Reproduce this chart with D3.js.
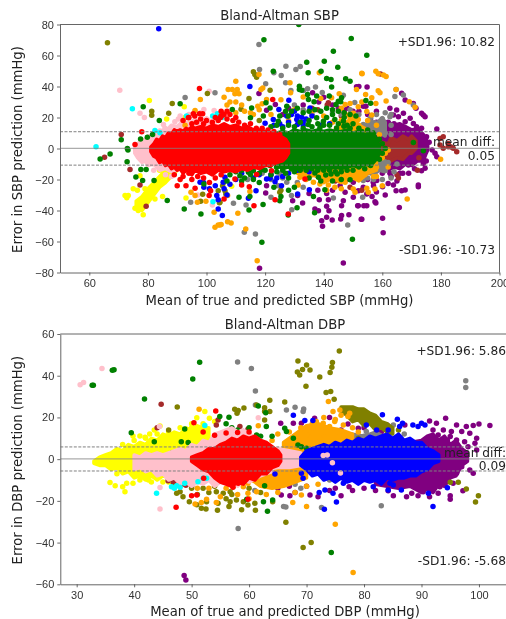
<!DOCTYPE html>
<html lang="en">

<head>
    <meta charset="utf-8" />
    <script src="https://d3js.org/d3.v7.min.js"></script>
    <style>
        body { margin: 0; background: #fff; }
        svg { display: block; filter: blur(0.35px); font-family: "DejaVu Sans", sans-serif; }
    </style>
</head>

<body>
    <script>

        const w = 506;
        const h = 619;

        const sbpYellowBand = [[76,-38,-34],[78,-40,-31],[80,-35,-26],[82,-30,-22],[84,-25,-18],[86,-22,-14],[88,-18,-11],[90,-14,-8]];
        const sbpPinkBand = [[75.5,-3,1],[76.5,-6,3],[78,-9,6],[79,-8,5],[80,-11,8],[82,-10,9],[84,-14,12],[86,-13,11],[88,-15,15],[90,-14,14],[92,-13,18],[94,-14,16],[96,-12,19],[98,-13,17],[100,-12,20],[102,-13,17],[104,-12,14]];
        const sbpPurpleBand = [[156,-11,11],[158,-13,14],[160,-12,13],[162,-14,17],[164,-12,15],[166,-13,16],[168,-10,14],[170,-11,12],[172,-8,13],[174,-8,9],[175,-3,6],[175.5,-1,2]];
        const sbpBrownBand = [[158,-5,1],[160,-7,4],[162,-6,3],[163,-8,7],[165,-6,5],[167,-7,8],[169,-3,6],[170,-3,8],[171.5,0,5]];
        const sbpGrayBand = [[154,10,15],[156,10,18],[158,10,16],[160,9,20],[161,8,17]];
        const sbpGrayBand2 = [[151,-16,-10],[154,-15,-10],[157,-17,-10],[159,-14,-9],[161,-15,-8]];
        const sbpOrangeBand = [[131,-16,-9],[134,-19,-9],[137,-17,-9],[140,-22,-9],[143,-19,-9],[146,-22,-9],[149,-18,-9],[152,-21,-9],[155,-16,-8],[158,-14,-6]];
        const sbpOrangeBand2 = [[144,8,13],[147,8,16],[150,8,20],[152,8,15],[154,8,13]];
        const sbpGreenBand = [[124,-11,10],[126,-13,11],[128,-12,10],[130,-14,12],[132,-12,11],[134,-13,12],[136,-11,11],[138,-13,12],[140,-12,11],[142,-13,12],[144,-12,11],[146,-13,11],[148,-12,12],[150,-11,10],[152,-12,11],[154,-10,9],[156,-11,10],[157.5,-8,8],[158.5,-5,4],[159,-2,1]];
        const sbpRedBand = [[81,-2,1],[82,-5,3],[83,-6,6],[84,-9,5],[85,-8,8],[86,-11,7],[87,-10,10],[88,-13,9],[89,-12,12],[90,-14,11],[91,-13,12],[92,-16,11],[93,-14,13],[94,-15,12],[95,-17,14],[96,-14,13],[98,-16,14],[100,-15,13],[102,-17,15],[104,-14,14],[106,-15,16],[108,-14,14],[110,-15,15],[112,-13,13],[114,-14,14],[116,-12,12],[118,-13,12],[120,-11,11],[122,-11,10],[124,-9,9],[126,-8,7],[127,-6,6],[128,-3,3]];

        const sbpYellow = [[72.2,-30.4],[73.3,-30.4],[72.8,-31.8],[75,-26],[76.4,-27],[79,-26],[77.3,-17.5],[82.4,-32.5],[85,-31],[93,-32],[78.4,-42.7],[75.6,-38.6],[76.7,-40],[77.3,-35.8],[79,-33.6],[80.1,-30.4],[81.3,-27.2],[82.4,-24],[84.1,-20.7],[85.8,-18.6],[87,-16.4],[80.5,31],[86.4,19],[92.4,27],[92.7,20],[108.6,-24.4],[94,16],[84,-14],[104,19]];
        const sbpPink = [[70.4,37.6],[77.3,22.8],[78.8,20],[85.3,15.5],[85.8,13],[89.2,17.2],[90.4,19.1],[99.1,25.2],[102.6,24.5],[100.9,37],[106,21],[102,-36.5],[97,-30],[91,21],[94,22],[96,24],[98,23],[86,-17],[88,-18],[82,-14]];
        const sbpCyan = [[74.7,25.6],[62.3,1.1],[82.4,11.6],[84.1,10.1],[93.2,20.9],[103.7,22.4],[102.1,20.9],[102.2,-34.3],[105.3,20],[100,-13]];
        const sbpPurple = [[178.6,12.6],[174,21.6],[174.6,20.5],[173.4,22.7],[171.5,25.9],[170.6,29.1],[167.8,31.3],[166.6,35.6],[162.6,25.9],[164.9,24.8],[167.2,22.7],[165.5,20.5],[169.5,19.5],[167.8,17.3],[163.8,21.6],[171.7,14],[173.4,13],[170.6,16.2],[175.1,7.6],[174,-9.6],[174.6,-12.8],[173.4,-14.3],[168.9,-10.6],[166,-16],[165.5,-11.7],[167.8,-26.8],[166.6,-27.2],[164.7,-27.2],[162.6,-16],[162,-22.5],[163.8,-23.5],[172.3,-23.5],[172.3,-24.6],[165.8,-38],[160.1,-45],[160.3,-54.3],[154.7,-36.9],[151.8,-36.9],[153,-45.7],[157.5,-34.3],[160.1,-24.6],[178,-3.1],[178.6,-5.3],[138.5,-33],[141.6,-33],[146.7,-33.7],[146.1,-36.9],[141,-37.3],[137,-39],[138.2,-40.1],[141.8,-40.1],[141,-44.4],[139.3,-46.6],[139.6,-50.2],[142.9,-46.1],[146.1,-43.3],[145.8,-45.5],[148.6,-42.7],[151.6,-36.9],[153.7,-36.9],[152.8,-45.7],[157.8,-35.2],[156.5,-30.9],[146.7,-73.9],[118.1,-77.3],[129.4,-33.7],[131.1,-30.4],[132.8,-35.2],[120.5,-24],[120.2,-28.7],[147.3,-28.3],[145.6,-24],[151.8,-27.2],[154.7,-29.4],[156.9,-21.8],[150.1,-21.8],[158.1,-20.7],[153.5,-25],[150.1,-31.5],[117.9,35.5],[136.2,35.9],[151.2,39.8],[152,40],[154.8,39.6],[154.4,27.3],[153.5,27.3],[158,24],[123.5,28.4],[120.5,24.7],[140,33],[138.3,30],[150,24],[147,24.5],[161,-30],[158,-28],[160,15],[162,17],[164,16],[166,14],[168,13],[170,11],[172,10],[158,17],[156,19],[155,22],[152,24],[148,26],[145,26],[143,28],[136,25],[133,28],[128,26],[126,22],[160,-16],[158,-14],[156,-15],[163,-18],[165,-21],[167,-16],[169,-16],[171,-13],[157,-24],[155,-20],[152,-18],[148,-20],[146,-19],[143,-27],[141,-29],[138,-27],[135,-29],[176,4],[177,-1],[175,-8]];
        const sbpBrown = [[70.9,9],[65.2,-5.7],[73.9,-13.6],[77.3,-23.5],[79.4,-37.3],[180.8,7.6],[182.5,3.3],[184.2,0.1],[185.4,-2.1],[179.7,6.5],[182.5,1.2],[180.8,0.1],[179.7,2.2],[183.5,1],[159.4,48],[141.6,29.5],[141.2,28],[149,-25],[153,-27],[165,-17],[165.5,-19],[172,-14],[172.5,-6],[159,11],[136,26],[138,25],[146,21],[144,-21]];
        const sbpGray = [[92.7,32.9],[102.9,35.9],[117.9,67.1],[127.1,53.1],[130.5,51],[132,52.9],[123,48.8],[125.5,47.1],[118.1,51],[120.2,41.7],[127,42.4],[128.8,37.4],[134.5,38.5],[137.2,39.6],[139.5,36.1],[133.1,37.5],[146.7,34.4],[150.6,29.7],[164.7,38.1],[167.2,34.5],[170.6,28],[164.3,33.5],[162.6,20.5],[94.6,-34.7],[148.2,-49.4],[143.3,-32],[109.2,-35.4],[113.5,-36.4],[112.9,-54.1],[116.7,-55.2],[122,-31.5],[129.1,-39.5],[153.3,-31.5],[125.1,-16.4],[127.4,-21.8],[124.5,-24],[129,-30.4],[152.4,-14.3],[154.7,-12.1],[156.9,-16.4],[158.6,-13.2],[153.5,-20.7],[151.2,-10],[153.5,15.5],[155.8,13.3],[157.5,16.6],[154.6,11.2],[160,19],[158,22],[161,23],[163,22],[156,20],[152,22],[149,25],[146,22],[143,23],[160,14],[163,15],[159,-12],[161,-14],[163,-19],[157,-20],[155,-19],[160,-20],[164,-15],[165,-10],[162,-9],[161,10],[163,9],[136,22],[133,25],[130,28],[126,-19],[131,-22],[133,-25],[119,-16],[122,-20],[114,-20]];
        const sbpOlive = [[66.2,68.2],[81.3,24.1],[81.3,21.5],[88.3,29],[87.1,22.8],[100.3,35.5],[116,49.5],[116.5,47.7],[117.1,46],[121.7,37.6],[114.5,32.3],[111.8,25.4],[98.7,-29.5],[98,-34],[104,-27.2],[104.4,-35],[125,-28.3],[105.5,-24],[106.3,-27.2],[106.6,-29.4],[104.6,-34.7],[125.4,-27],[105.8,-22],[105,21],[118,18]];
        const sbpOrange = [[96.1,24.5],[92.7,15],[97.9,31.6],[110,43.4],[107.4,38],[108.8,38],[110.5,38],[109.7,35.3],[111.1,35.3],[119.2,39.1],[118.6,38],[117.9,47.7],[128.5,42.4],[128.7,35.9],[133,33.3],[139,32.3],[142.7,32.7],[138.5,48.8],[153.1,48.2],[157.8,49.9],[158.6,48.2],[160.4,47.4],[161.3,46.4],[153,48.5],[145.3,35.3],[147.3,28.4],[151.2,38],[154.3,34.8],[156.4,32.7],[157.8,29],[120.5,31.6],[125.4,31.4],[119,28.8],[117.5,27.3],[150,17.6],[151.2,15.5],[152.4,13.3],[149,19.8],[151.8,18.7],[164.7,38.1],[158.6,37.3],[159.2,36],[161.3,30.7],[169.2,30.2],[171.2,26.6],[148.4,21.6],[150.1,22.7],[151.8,27],[154.7,23.8],[156.4,21.6],[94.7,-28.3],[96.1,-30.4],[96.9,-34.7],[99.8,-34],[102.6,-41.2],[102.9,-50.8],[104,-49.3],[105,-49],[110.7,-41.8],[107.2,-47.2],[108.4,-48],[113.4,-52],[117.3,-72.4],[104.6,-49.3],[107.2,-30.4],[114.8,-27.8],[131.3,-23.5],[131.9,-18.6],[133.6,-16.4],[136.5,-21.8],[138.7,-22.9],[141.6,-23.5],[143.8,-25],[147.3,-21.8],[150.1,-26.1],[150.7,-28.3],[157.5,-26.1],[153,-7.8],[158,-12.1],[154.7,-25.7],[155.2,-28.3],[179.9,-7],[168.5,-32.6],[136,24],[140,21],[143,17],[146,18],[148,16],[152,15],[155,18],[158,15],[153,30],[149,29],[146,26],[130,25],[128,18],[118,25],[122,22],[113,24],[110,23],[116,22],[112,28],[115,23],[108,30],[106,33],[110,30],[107,28],[133,-12],[135,-14],[137,-17],[139,-19],[142,-19],[145,-19],[148,-18],[151,-17],[154,-17],[157,-18],[134,-20],[141,-27],[146,-26],[155,-14],[158,-18],[160,-24],[162,-12],[149,-15],[160,-6],[161,-3],[162,-1],[159,9]];
        const sbpBlue = [[83.7,77.2],[114.8,40],[128.1,31.2],[124.7,25.2],[129,22],[130.8,18.7],[132.5,20.2],[134,19.1],[131,15.5],[127.4,20.9],[122.8,18.7],[120,16.3],[135.3,26.2],[128,17],[133,15],[97.8,-21.8],[99.1,-25],[103.5,-30.4],[104,-39],[116.9,-27.2],[114.3,-32.1],[105.4,-43.3],[106.3,-18.6],[105.7,-21.8],[131.1,-29.4],[121.7,-19.2],[120.5,-19.7],[123.4,-21.4],[125.6,-24],[135.1,-26.6],[140.8,-8.9],[125,16],[126,14],[123,15],[130,24],[131,21],[133,17],[136,21],[139,15],[142,16],[126,-18],[124,-19],[122,-17],[118,-17],[116,-19],[112,-16],[110,-20],[108,-23],[106,-26],[103,-24],[101,-26],[99,-22],[107,-30],[104,-33],[128,-16],[131,-14],[135,-15],[138,-12.5],[144,-12]];
        const sbpGreen = [[70.9,5.6],[78.4,26.9],[91,28.8],[83.9,18],[73,0],[77.5,6.2],[79.8,7.3],[81.6,9],[63.7,-6.8],[67.1,-3.5],[73.2,-1],[72.9,-8.5],[75.9,-18.4],[78.2,-20.7],[82.1,-20.7],[77.6,-13.6],[79.4,-13.6],[86.6,-33.6],[92.4,-39],[98.1,-42.2],[99.1,-22.9],[119.6,70.1],[149.4,71],[154.7,60.2],[143.3,62.8],[140.2,56.3],[144.8,52.5],[134.2,55.7],[122.8,49.9],[139.1,49.9],[134.7,48.8],[141,45.2],[142.5,44.5],[147.5,45],[149,43.4],[131.7,40.2],[131.7,38],[132.5,37.6],[142.7,39.6],[134.5,34.8],[134.8,31.6],[137.6,33.8],[136.7,30.1],[141.9,33.8],[145,30.5],[146.1,32.7],[144.2,28.4],[145.8,30.1],[154.4,31],[156,29.2],[108.8,25.2],[115.4,26.2],[121.7,26.2],[127.4,27.3],[120.3,29.5],[115,19.8],[119.4,20.9],[124.5,17.6],[127.9,20.9],[137.6,19.8],[139.9,17.6],[143.8,18.7],[146.7,17.6],[134.7,15.5],[138.7,13.3],[144.4,13.3],[146.9,14.4],[131.5,80],[149.8,-58.6],[118.9,-60.5],[111.1,-31.5],[114.8,-31],[114.5,-39.7],[119.3,-36.2],[130.9,-38.2],[136.9,-41.4],[127.9,-42.9],[125,-33.7],[125.4,-30.9],[116,-14.3],[118.8,-13.7],[121.7,-11],[126.2,-11],[123.9,-12.1],[129,-13.2],[111.4,-17.5],[114.3,-15.4],[133.6,-11],[140.7,-17.1],[142.5,-16.4],[144.6,-16.4],[138.2,-18.6],[140.4,-26.6],[149,-20.1],[137,-15.8],[136.5,-30.9],[174,-1.4],[170.6,3.8],[122,14],[124,15],[126,13],[128,15],[130,14],[132,17],[133,13],[135,18],[136,14],[138,16],[140,15],[141,20],[142,15],[143,22],[145,16],[147,20],[148,15],[149,13],[150,16],[152,13],[153,11],[155,12],[157,10],[125,21],[127,24],[129,24],[131,26],[133,23],[135,24],[137,25],[139,24],[141,26],[143,25],[145,24],[147,23],[149,22],[151,21],[108,-17],[110,-15],[112,-14],[113,-19],[115,-17],[118,-16],[120,-14],[122,-17],[124,-15],[126,-14],[127,-16],[128,-19],[130,-15],[132,-14],[134,-14],[136,-13],[138,-14],[140,-14],[142,-14],[144,-15],[146,-15],[148,-14],[150,-14],[152,-12],[154,-13],[156,-11],[146,-20],[143,-21],[139,-21],[135,-19],[130,-25],[128,-27],[123,-25],[118,-22],[116,-20],[112,-21],[107,-21],[159,6],[160,3],[160,-3],[159,-7],[161,0]];
        const sbpRed = [[97.6,38.7],[122.6,31.6],[95.5,22.4],[97.6,22.4],[98.7,22.4],[93.8,19.8],[96.6,17],[77.9,10.8],[75.6,2.6],[105,24],[106,22],[107,19],[109,18],[111,17],[113,15],[115,16],[117,13],[119,13],[121,12],[123,11],[125,9],[107,24],[104.8,20],[94,20],[96,21],[92,18],[98,19],[100,18],[102,17],[104,18],[108,22],[110,20],[105,21],[103,20],[99,16],[95,16],[89,-17],[91,-20],[90,-24],[93,-24],[92,-18],[95,-20],[96.1,-25.7],[94,-16],[97,-18],[99,-19],[101,-22],[103,-19],[105,-17],[101.4,-27.2],[100.9,-30.4],[127.9,-42.3],[123.4,-33],[116.2,-36.9],[106,-32.6],[109.7,-19.7],[112,-23.5],[114.6,-24.6],[117.1,-16.7],[122.2,-14.3],[133.6,-19.7]];

        const dbpYellowBand = [[33,-2,-1],[34,-3,1],[35,-3,2],[36,-5,3],[37,-4,5],[38,-7,4],[39,-6,7],[40,-9,6],[41,-8,8],[42,-10,7],[43,-8,10],[44,-10,9],[45,-8,12],[46,-9,11],[47,-6,13],[48,-7,12],[49,-4,15],[50,-2,14],[51,0,16],[52,3,15],[53,6,15]];
        const dbpPurpleBand = [[82,-12,-8],[84,-13,3],[86,-14,3],[88,-13,8],[90,-16,9],[91,-14,11],[92,-16,12],[93,-12,9],[94,-13,11],[95,-9,7],[96,-8,9],[97,-3,5],[98,-1,3]];
        const dbpGrayBand = [[76,6,10],[78,6,12],[80,6,11],[82,6,13],[84,6,10]];
        const dbpOliveBand = [[76,23,25],[77,21,25],[78,18,25],[79,19,24],[80,16,24],[81,17,22],[82,14,21],[83,15,18],[84,13,17],[85,12,15]];
        const dbpOrangeBand = [[66,2,8],[68,3,12],[70,4,16],[72,5,17],[74,6,15],[76,7,14],[78,7,12]];
        const dbpOrangeBand2 = [[60,-9,-6],[62,-13,-6],[64,-14,-5],[66,-13,-3],[68,-11,-3],[70,-9,-3]];
        const dbpPinkBand = [[40,-5,2],[41,-4,1],[42,-6,3],[43,-5,2],[44,-8,3],[45,-7,2],[46,-10,3],[47,-9,4],[48,-12,5],[49,-11,4],[50,-13,7],[51,-11,6],[52,-12,9],[53,-10,8],[54,-13,12],[55,-11,13],[56,-12,14],[57,-10,15],[58,-13,13],[59,-10,14],[60,-11,12],[62,-8,9],[64,-6,6]];
        const dbpPinkBand2 = [[63,-5,4],[65,-4,5],[67,-4,4],[69,-3,3]];
        const dbpRedBand = [[50,-1,1],[51,-3,2],[52,-5,3],[53,-6,5],[54,-9,5],[55,-11,7],[56,-12,8],[57,-13,10],[58,-11,9],[59,-12,11],[60,-9,10],[61,-10,11],[62,-7,9],[63,-7,8],[64,-4,6],[65,-3,4],[65.5,-1,2]];
        const dbpBlueBand = [[69,-3,1],[70,-5,4],[71,-8,5],[72,-7,6],[73,-10,7],[74,-9,6],[75,-11,8],[76,-9,7],[77,-11,9],[78,-10,8],[79,-12,10],[80,-10,9],[81,-11,11],[82,-10,10],[83,-12,11],[84,-9,12],[85,-10,10],[86,-9,12],[87,-9,9],[88,-8,10],[89,-8,8],[90,-6,8],[91,-5,5],[92,-2,4],[93,-1,2]];

        const dbpYellow = [[52.3,22.8],[50.9,19.9],[53.1,19.6],[39.8,11.1],[41,11.1],[41.9,10.5],[44.5,15.9],[42.7,12.1],[38.7,-11.6],[38.4,-15.6],[38,-13.2],[36.7,-12.8],[35.8,-11.2],[39.8,-11.6],[42.5,-10],[50,17],[48,-8],[45,-11],[43.5,14],[38,7],[40,9],[42,10],[44,12],[46,13],[48,15],[50,15],[52,17],[54,18],[37,-7],[41,-10],[43,-11],[46,-11],[49,-7]];
        const dbpPurple = [[101.9,16.1],[48.7,-55.8],[49,-57.9],[95,-19.2],[95,-17.6],[97.2,-15.2],[94.2,19.6],[91.4,18.3],[96.1,16.4],[97.8,15.6],[99,16.1],[100,16.9],[92.6,17.2],[92,14],[93.8,14],[95.2,13.2],[97,13.2],[98.4,12.4],[99.6,10],[95,10.8],[96.1,9.2],[97.5,8.4],[99.3,7.6],[94.5,9.2],[92.9,11.6],[98.1,6],[96.7,5.2],[99.6,4.4],[97,-0.4],[99,-6.8],[98.4,-5.2],[97,-3.6],[96.1,-6.8],[95.5,-11.6],[93.2,-13.2],[92,-14],[90.3,-15.6],[88.3,-16.4],[87.4,-18],[85.1,-17.6],[84.2,-15.2],[89.4,-17.6],[91.4,-18],[92.9,-16.4],[82.2,15.6],[84,16.4],[87.1,16.4],[79,14.8],[77.2,16.9],[77.4,-13.2],[70.6,-17.2],[65.6,-17.2],[67.1,-17.5],[65.5,17.2],[67.7,17.2],[69.1,17.2],[71.4,19.6],[74,-15],[76,-17.5],[72,-18],[78,-15],[80,-14],[82,-15],[75,-14],[70,-13],[67,-13],[65,-14],[68,-16],[80,15],[83,13],[76,14],[74,20]];
        const dbpGray = [[58,46.6],[60.4,43.5],[61.1,32.7],[97.7,37.6],[97.7,34.4],[66.5,23.6],[68,24.9],[69.4,22.8],[69.5,24],[61.1,26],[58.1,-33.3],[72.6,-23.2],[66,-22.7],[66.4,-23],[83,-22.3],[79,8.4],[80.4,13.2],[82.2,11.6],[78.1,10.8],[81,10],[85.1,16.4],[79.6,10],[72.6,-6.8],[74,-10],[69,-14],[68,-12],[61,-15],[74,12],[80,11],[83,9],[76,11],[84,11.5],[87,12]];
        const dbpBrown = [[44.7,26.3],[45.9,-10.3],[46.8,-11.2],[47.7,-11.6],[48.5,-11.9],[58.4,15.6],[59.8,14.3],[54.6,18.8],[54.3,16.4],[44,15],[50,-13],[47,-10],[49,-12.5]];
        const dbpOlive = [[47.5,25],[68.5,47.1],[70,45.1],[70.6,42.7],[69.3,43],[68.4,41.8],[68.8,40.4],[72.3,39.4],[69.9,34.9],[75.7,51.9],[74.5,46.3],[74.4,44],[74.1,41.5],[73.4,31.9],[74.2,32.4],[74.8,28.7],[63.6,28.2],[66.2,27.4],[57.5,23.9],[58.1,23.3],[59.1,24.5],[57.9,22],[61.3,26],[62.7,24.7],[62.7,22.8],[63.6,22.8],[62.7,18.8],[66.4,-30.2],[69.4,-42.4],[70.8,-40],[99.4,-20.5],[99.9,-17.5],[97.8,-14.3],[95,-11.1],[96.4,-11.1],[48.5,-18],[49.6,-20.4],[51.7,-23.5],[52.5,-23.9],[54.5,-24.5],[50.9,-21.9],[52.6,-20.4],[54.6,-21.1],[56.7,-20.4],[56.5,-22.7],[58.7,-24.3],[59,-20.4],[57.8,-19.6],[61.1,-24.5],[61,-21.1],[59.8,-22],[64.1,-20.4],[54.3,-15.6],[55.5,-16.4],[56.7,-15.6],[48,-15.6],[46.8,-13.2],[47.4,-16.4],[46,14],[57,-17],[53,-16],[79,10],[86,14],[50,-14],[52,-14],[51,-17],[54,-13],[56,-19],[60,-14],[62,-16],[65,-12]];
        const dbpOrange = [[73.8,27.6],[51.3,23.9],[75,-31.2],[70,-22.7],[67.6,-20.8],[78.1,-54.4],[69.1,-17.2],[50.6,-21.5],[51.7,-20.8],[54.3,-20.8],[52.6,-19.2],[59.8,-16.4],[59.8,-11.6],[60.7,-10],[59,-13.2],[61.3,-15.6],[57.2,-13.2],[71.7,18],[72.9,17.2],[74.9,18],[76.4,16.4],[74,15.6],[75.5,13.2],[70,11.6],[71.1,12.4],[72.3,10],[76.4,11.6],[77.2,20.4],[77.5,22],[74.6,22.8],[75.8,23.6],[61.6,16],[64,9],[65,12],[63,7],[67,13],[69,15],[71,17],[73,20],[75,19],[78,15],[79,13],[76,21],[73,13],[60,-19],[63,-17],[65,-16],[68,-16],[70,-13],[72,-12],[58,-17],[56,-14],[55,-18],[53,-14],[51,-14]];
        const dbpGreen = [[32.7,35.4],[32.9,35.4],[36.2,42.6],[36.5,42.9],[39.5,12.7],[41.8,28.8],[43.5,8.4],[50.2,38.4],[51.4,46.4],[54.9,20.4],[56.5,20.1],[61.6,25.5],[62.9,22.3],[74.3,-44.8],[63.2,-25],[62.5,-20.4],[64.1,-19.6],[59.6,-19.2],[62.7,-12.7],[48.8,14.5],[48.2,8.4],[49.4,8],[46.5,2.8],[66.5,13.2],[67.7,10],[68.5,6.8],[70,5.2],[71.1,2],[71.4,4.4],[69.1,6],[63,15.6],[61.3,11.6],[59.6,12.7],[66.2,14.8],[59,13.2],[58,14],[56,17],[55,12],[57,15],[60,15],[62,11],[64,11]];
        const dbpCyan = [[52.3,16.1],[43.9,-16.4],[46.5,-13.2],[47.4,-12.8],[48.8,-11.6],[51.1,-10.8],[52,-9.2],[52.6,-9.2],[47,-14],[48,-13.5]];
        const dbpPink = [[30.6,35.7],[31.2,36.8],[34.4,43.4],[61.6,19.9],[44.5,-23.9],[44.5,-13.6],[44.4,15.6]];
        const dbpRed = [[54.2,23.1],[50.4,17.5],[47.3,-23.1],[59.8,-19.2],[57.2,-13.5],[58.1,-11.6],[52.1,-9.2],[50.9,-17.2],[50,-17.5],[52,13],[54,11.5],[56,12.5],[58,12.8],[60,13]];
        const dbpBlue = [[67.7,21],[73.1,-24],[92,-22.7],[75.2,-20.5],[94.5,-13.7],[83.2,21.3],[85.8,19.1],[86.7,17.2],[88.5,16.4],[90,17.2],[89.4,15.6],[90.6,16.4],[86.2,15.6],[84.2,14],[82.2,14],[80.4,16.4],[69.7,18.5],[71.1,18.5],[84.5,-11.6],[85.1,-12.4],[84.2,-14.8],[81.6,-13.2],[74.6,-16.4],[72.2,-16],[73.2,-14.8],[86.5,-14.8],[91.2,-16.4],[76.4,-11.6],[64.5,-7.1],[69.1,-6.8],[71.4,-5.2],[69.4,-9.2]];
        const dbpPinkTop = [[72.9,1.7],[73.6,2],[74.5,-1.7],[75.9,-6.6]];

        const colors = { yellow: "#ffff00", pink: "#ffc0cb", cyan: "#00ffff", purple: "#800080", brown: "#a52a2a", gray: "#808080", olive: "#808000", orange: "#ffa500", blue: "#0000ff", green: "#008000", red: "#ff0000" };

        // draw order matters, later colours sit on top
        const sbpLayers = [
            { color: colors.yellow, bands: [sbpYellowBand], points: sbpYellow },
            { color: colors.pink, bands: [sbpPinkBand], points: sbpPink },
            { color: colors.cyan, bands: [], points: sbpCyan },
            { color: colors.purple, bands: [sbpPurpleBand], points: sbpPurple },
            { color: colors.brown, bands: [sbpBrownBand], points: sbpBrown },
            { color: colors.gray, bands: [sbpGrayBand, sbpGrayBand2], points: sbpGray },
            { color: colors.olive, bands: [], points: sbpOlive },
            { color: colors.orange, bands: [sbpOrangeBand, sbpOrangeBand2], points: sbpOrange },
            { color: colors.blue, bands: [], points: sbpBlue },
            { color: colors.green, bands: [sbpGreenBand], points: sbpGreen },
            { color: colors.red, bands: [sbpRedBand], points: sbpRed }
        ];

        const dbpLayers = [
            { color: colors.yellow, bands: [dbpYellowBand], points: dbpYellow },
            { color: colors.purple, bands: [dbpPurpleBand], points: dbpPurple },
            { color: colors.gray, bands: [dbpGrayBand], points: dbpGray },
            { color: colors.brown, bands: [], points: dbpBrown },
            { color: colors.olive, bands: [dbpOliveBand], points: dbpOlive },
            { color: colors.orange, bands: [dbpOrangeBand, dbpOrangeBand2], points: dbpOrange },
            { color: colors.green, bands: [], points: dbpGreen },
            { color: colors.pink, bands: [dbpPinkBand, dbpPinkBand2], points: dbpPink },
            { color: colors.cyan, bands: [], points: dbpCyan },
            { color: colors.red, bands: [dbpRedBand], points: dbpRed },
            { color: colors.blue, bands: [dbpBlueBand], points: dbpBlue },
            { color: colors.pink, bands: [], points: dbpPinkTop }
        ];

        const svg = d3.select("body")
            .append("svg")
            .attr("width", w)
            .attr("height", h);

        function panel(o) {
            const x = d3.scaleLinear().domain(o.xDomain).range(o.xRange);
            const y = d3.scaleLinear().domain(o.yDomain).range(o.yRange);

            svg.append("clipPath").attr("id", o.id)
                .append("rect")
                .attr("x", o.xRange[0]).attr("y", o.yRange[1])
                .attr("width", o.xRange[1] - o.xRange[0])
                .attr("height", o.yRange[0] - o.yRange[1]);

            const marks = svg.append("g").attr("clip-path", `url(#${o.id})`);
            const area = d3.area().x(d => x(d[0])).y0(d => y(d[1])).y1(d => y(d[2]));

            o.layers.forEach(layer => {
                layer.bands.forEach(band => {
                    marks.append("path")
                        .attr("d", area(band))
                        .attr("fill", layer.color)
                        .attr("stroke", layer.color)
                        .attr("stroke-width", 3.5)
                        .attr("stroke-linejoin", "round");
                });
                marks.selectAll(null)
                    .data(layer.points)
                    .enter()
                    .append("circle")
                    .attr("cx", d => x(d[0]))
                    .attr("cy", d => y(d[1]))
                    .attr("r", 2.75)
                    .attr("fill", layer.color);
            });

            // mean and limits go over the points
            marks.append("line")
                .attr("x1", o.xRange[0]).attr("x2", o.xRange[1])
                .attr("y1", y(o.mean)).attr("y2", y(o.mean))
                .attr("stroke", "#808080").attr("stroke-width", 1.2).attr("opacity", 0.65);
            [o.upper, o.lower].forEach(v => {
                marks.append("line")
                    .attr("x1", o.xRange[0]).attr("x2", o.xRange[1])
                    .attr("y1", y(v)).attr("y2", y(v))
                    .attr("stroke", "#808080").attr("stroke-width", 1).attr("stroke-dasharray", "3,1.5");
            });

            const xAxis = d3.axisBottom(x).tickValues(o.xTicks).tickSize(3).tickPadding(3.5).tickSizeOuter(0);
            const yAxis = d3.axisLeft(y).tickValues(o.yTicks).tickSize(3).tickPadding(3).tickSizeOuter(0);

            const gx = svg.append("g").attr("transform", `translate(0, ${o.yRange[0]})`).call(xAxis);
            const gy = svg.append("g").attr("transform", `translate(${o.xRange[0]}, 0)`).call(yAxis);
            [gx, gy].forEach(g => {
                g.selectAll("text").style("font-size", "11px").style("fill", "#333");
                g.selectAll(".tick line").attr("stroke", "#444").attr("stroke-width", 0.8);
                g.select(".domain").attr("stroke", "#666");
            });

            // top and right frame
            svg.append("line").attr("x1", o.xRange[0]).attr("x2", o.xRange[1]).attr("y1", o.yRange[1]).attr("y2", o.yRange[1]).attr("stroke", "#666");
            svg.append("line").attr("x1", o.xRange[1]).attr("x2", o.xRange[1]).attr("y1", o.yRange[0]).attr("y2", o.yRange[1]).attr("stroke", "#666");

            svg.append("text")
                .attr("x", o.titleX).attr("y", o.yRange[1] - 5)
                .attr("text-anchor", "middle")
                .style("font-size", "13.2px").style("fill", "#222")
                .text(o.title);

            svg.append("text")
                .attr("x", o.xLabelX).attr("y", o.yRange[0] + 32)
                .attr("text-anchor", "middle")
                .style("font-size", "13.2px").style("fill", "#222")
                .text(o.xLabel);

            svg.append("text")
                .attr("transform", `translate(22, ${(o.yRange[0] + o.yRange[1]) / 2 + 1}) rotate(-90)`)
                .attr("text-anchor", "middle")
                .style("font-size", "13.2px").style("fill", "#222")
                .text(o.yLabel);

            o.notes.forEach(n => {
                svg.append("text")
                    .attr("x", o.noteX).attr("y", n[1])
                    .attr("text-anchor", "end")
                    .style("font-size", "12.2px").style("fill", "#222")
                    .text(n[0]);
            });
        }

        panel({
            id: "clipSbp",
            layers: sbpLayers,
            xDomain: [50, 200], xRange: [60, 499.5],
            yDomain: [-80, 80], yRange: [272.5, 24.5],
            xTicks: [60, 80, 100, 120, 140, 160, 180, 200],
            yTicks: [-80, -60, -40, -20, 0, 20, 40, 60, 80],
            mean: 0.05, upper: 10.82, lower: -10.73,
            title: "Bland-Altman SBP", titleX: 279.5,
            xLabel: "Mean of true and predicted SBP (mmHg)", xLabelX: 279.5,
            yLabel: "Error in SBP prediction (mmHg)",
            noteX: 495,
            notes: [["+SD1.96: 10.82", 45.5], ["mean diff:", 146], ["0.05", 160], ["-SD1.96: -10.73", 253.5]]
        });

        panel({
            id: "clipDbp",
            layers: dbpLayers,
            xDomain: [27.15, 105.4], xRange: [60.3, 510],
            yDomain: [-60, 60], yRange: [584.3, 334],
            xTicks: [30, 40, 50, 60, 70, 80, 90, 100],
            yTicks: [-60, -40, -20, 0, 20, 40, 60],
            mean: 0.09, upper: 5.86, lower: -5.68,
            title: "Bland-Altman DBP", titleX: 285,
            xLabel: "Mean of true and predicted DBP (mmHg)", xLabelX: 285,
            yLabel: "Error in DBP prediction (mmHg)",
            noteX: 506,
            notes: [["+SD1.96: 5.86", 355], ["mean diff:", 456.5], ["0.09", 470], ["-SD1.96: -5.68", 564.5]]
        });

    </script>
</body>

</html>
